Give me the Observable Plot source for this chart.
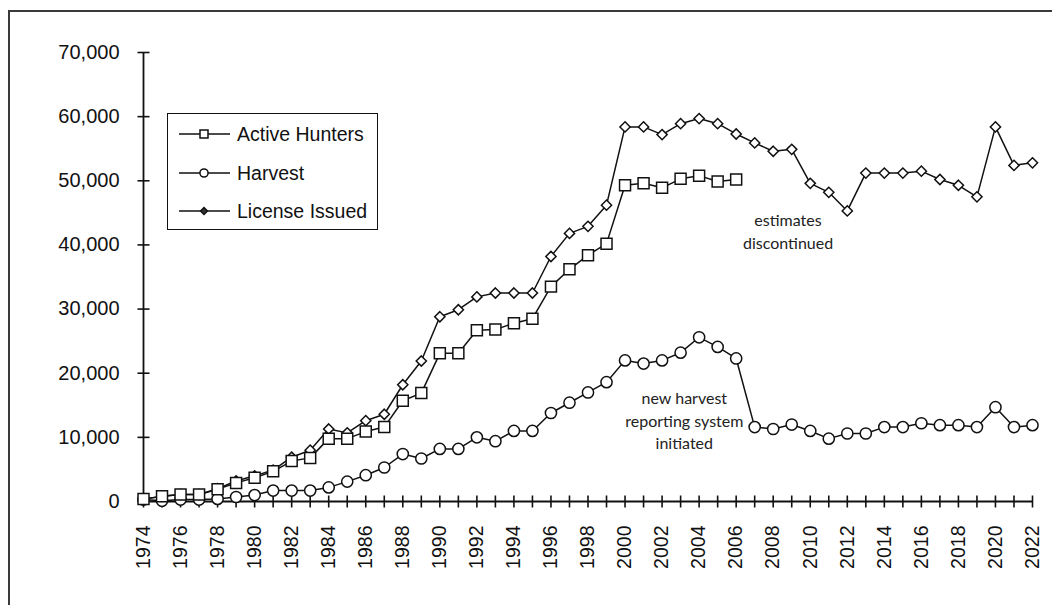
<!DOCTYPE html>
<html><head><meta charset="utf-8">
<script src="https://cdn.jsdelivr.net/npm/d3@7"></script>
<script src="https://cdn.jsdelivr.net/npm/@observablehq/plot@0.6"></script>
<style>
html,body{margin:0;padding:0;background:#fff;width:1052px;height:605px;overflow:hidden;}
#wrap{position:relative;width:1052px;height:605px;}
#chart{position:absolute;left:0;top:0;}
#frame{position:absolute;left:8px;top:10px;width:1100px;height:700px;border:2px solid #3a3a3a;box-sizing:border-box;pointer-events:none;}
#legend{position:absolute;left:167px;top:113px;width:211px;height:117px;border:1.6px solid #111;background:#fff;box-sizing:border-box;font-family:"Liberation Sans",Arial,sans-serif;font-size:19.5px;color:#111;}
.row{position:absolute;left:11px;height:24px;display:flex;align-items:center;white-space:nowrap;}
.row svg{display:block;margin-right:6px;}
</style>
</head><body>
<div id="wrap"><div id="chart"></div><div id="legend"></div><div id="frame"></div></div>
<script>
// ---- data ----
const years = [1974,1975,1976,1977,1978,1979,1980,1981,1982,1983,1984,1985,1986,1987,1988,1989,1990,1991,1992,1993,1994,1995,1996,1997,1998,1999,2000,2001,2002,2003,2004,2005,2006,2007,2008,2009,2010,2011,2012,2013,2014,2015,2016,2017,2018,2019,2020,2021,2022];
const activeHunters = [400,800,1100,1100,1900,2900,3700,4700,6300,6800,9800,9800,10900,11600,15700,16900,23100,23100,26700,26800,27800,28500,33500,36200,38400,40200,49300,49600,48900,50300,50800,49900,50200];
const harvest = [300,100,300,300,400,700,1000,1700,1700,1700,2200,3100,4100,5300,7400,6700,8200,8200,10000,9400,11000,11000,13800,15400,17000,18600,22000,21500,22000,23200,25600,24100,22300,11600,11300,12000,11000,9800,10600,10600,11600,11600,12200,11900,11900,11600,14700,11600,11900];
const licenseIssued = [400,800,1100,1100,2000,3200,4000,4900,6900,8000,11300,10700,12600,13600,18200,21900,28800,29900,31900,32500,32500,32500,38200,41800,42900,46200,58400,58400,57200,58900,59700,58900,57300,55900,54600,54900,49600,48200,45300,51200,51200,51200,51500,50200,49300,47500,58400,52400,52800];
const seriesNames = ["Active Hunters", "Harvest", "License Issued"];
const yTicks = [0,10000,20000,30000,40000,50000,60000,70000];
const xLabelYears = [1974,1976,1978,1980,1982,1984,1986,1988,1990,1992,1994,1996,1998,2000,2002,2004,2006,2008,2010,2012,2014,2016,2018,2020,2022];
const annotations = ["new harvest\nreporting system\ninitiated", "estimates\ndiscontinued"];

const rows = years.map((year, i) => ({
  year,
  active: i < activeHunters.length ? activeHunters[i] : null,
  harvest: harvest[i],
  license: licenseIssued[i]
}));
const activeRows = rows.filter(d => d.active != null);

const hTick = {draw(ctx){ ctx.moveTo(-6, 0); ctx.lineTo(6, 0); }};
const vTick = {draw(ctx){ ctx.moveTo(0, -6); ctx.lineTo(0, 6); }};

const ink = "#111";
const annoStyle = {text: d => d, fontFamily: "Lato, 'Open Sans', sans-serif", fontSize: 16, lineHeight: 1.42, letterSpacing: "0.7px", fill: "#222", textAnchor: "middle", lineAnchor: "middle"};
const plot = Plot.plot({
  width: 1052,
  height: 605,
  marginLeft: 143,
  marginRight: 20,
  marginTop: 52,
  marginBottom: 104,
  style: {fontFamily: "'Liberation Sans', Arial, sans-serif", fontSize: "20px", color: ink, background: "transparent", overflow: "visible"},
  x: {domain: [years[0], years[years.length - 1]]},
  y: {domain: [yTicks[0], yTicks[yTicks.length - 1]]},
  marks: [
    Plot.axisY({ticks: yTicks, tickFormat: d3.format(","), tickSize: 0, tickPadding: 24, fontSize: 20, label: null}),
    Plot.axisX({ticks: xLabelYears, tickFormat: d => String(d), tickRotate: -90, tickSize: 0, tickPadding: 24, fontSize: 19.5, letterSpacing: "0.5px", label: null}),
    Plot.ruleX([years[0]], {y1: () => yTicks[0], y2: () => yTicks[yTicks.length - 1], stroke: ink, strokeWidth: 1.8}),
    Plot.ruleY([yTicks[0]], {x1: () => years[0], x2: () => years[years.length - 1], stroke: ink, strokeWidth: 1.8}),
    Plot.dot(yTicks, {x: () => years[0], y: d => d, symbol: hTick, fill: "none", stroke: ink, strokeWidth: 1.6}),
    Plot.dot(years, {x: d => d, y: () => yTicks[0], symbol: vTick, fill: "none", stroke: ink, strokeWidth: 1.6}),
    Plot.line(rows, {x: "year", y: "harvest", stroke: ink, strokeWidth: 1.5}),
    Plot.line(rows, {x: "year", y: "license", stroke: ink, strokeWidth: 1.5}),
    Plot.line(activeRows, {x: "year", y: "active", stroke: ink, strokeWidth: 1.5}),
    Plot.dot(rows, {x: "year", y: "harvest", symbol: "circle", r: 5.6, fill: "white", stroke: ink, strokeWidth: 1.5}),
    Plot.dot(rows, {x: "year", y: "license", symbol: "diamond2", r: 4.6, fill: "white", stroke: ink, strokeWidth: 1.5}),
    Plot.dot(activeRows, {x: "year", y: "active", symbol: "square", r: 6.2, fill: "white", stroke: ink, strokeWidth: 1.5}),
    Plot.text([annotations[0]], {x: () => 2003.2, y: () => 12800, ...annoStyle}),
    Plot.text([annotations[1]], {x: () => 2008.8, y: () => 42300, ...annoStyle})
  ]
});
document.getElementById("chart").append(plot);

// legend (HTML box with small SVG swatches)
const legend = d3.select("#legend");
const swatchSymbols = [d3.symbolSquare, d3.symbolCircle, d3.symbolDiamond2];
const swatchSizes = [64, 52, 30];
const swatchFill = ["white", "white", "#333"];
const rowTops = [8, 47, 85];
seriesNames.forEach((name, i) => {
  const row = legend.append("div").attr("class", "row").style("top", rowTops[i] + "px");
  const svg = row.append("svg").attr("width", 52).attr("height", 20);
  svg.append("line").attr("x1", 0).attr("x2", 51).attr("y1", 10).attr("y2", 10).attr("stroke", ink).attr("stroke-width", 1.5);
  svg.append("path").attr("transform", "translate(25,10)").attr("d", d3.symbol(swatchSymbols[i], swatchSizes[i])()).attr("fill", swatchFill[i]).attr("stroke", ink).attr("stroke-width", 1.5);
  row.append("span").text(name);
});
</script>
</body></html>
